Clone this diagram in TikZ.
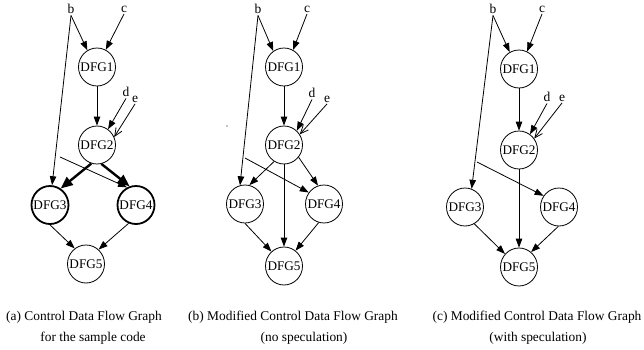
\documentclass[tikz,border=0pt]{standalone}
\usepackage{fontspec}
\setmainfont{Liberation Serif}
\usetikzlibrary{arrows.meta,shapes.geometric}

\tikzset{
  blk/.style={draw, ellipse, minimum width=37pt, minimum height=38pt,
    inner xsep=-6pt, inner ysep=0pt,
    line width=0.8pt, font=\fontsize{13.2}{15}\selectfont},
  heavyblk/.style={blk, line width=1.8pt},
  lbl/.style={inner sep=1.5pt, font=\fontsize{13.5}{15}\selectfont},
  captext/.style={inner sep=0pt, font=\fontsize{13.4}{15}\selectfont},
  flow/.style={line width=0.8pt, -{Triangle[length=9pt,width=6.5pt]}},
  heavyflow/.style={line width=2.4pt, -{Triangle[length=12pt,width=10pt]}},
  openflow/.style={line width=0.8pt, -{Straight Barb[length=8pt,width=7pt]}},
}

\begin{document}
\begin{tikzpicture}[x=1pt,y=-1pt]
\useasboundingbox (0,0) rectangle (644,350);

% ---------------- (a) original graph ----------------
\node[lbl] (a-b) at (71,9) {b};
\node[lbl] (a-c) at (124,9) {c};
\node[lbl] (a-d) at (126,92) {d};
\node[lbl] (a-e) at (135,99) {e};
\node[blk] (a-1) at (97,67) {DFG1};
\node[blk] (a-2) at (97,145) {DFG2};
\node[heavyblk] (a-3) at (50,205) {DFG3};
\node[heavyblk] (a-4) at (136,205) {DFG4};
\node[blk] (a-5) at (86,264) {DFG5};
\coordinate (a-x) at (60,157);

\draw[flow] (a-b.south) -- (a-1.120);
\draw[flow] (a-c.south) -- (a-1.63);
\draw[flow] (a-b.south) -- (a-3.84);
\draw[flow] (a-1.south) -- (a-2.north);
\draw[flow] (a-d.south) -- (a-2.55);
\draw[openflow] (a-e.south) -- (a-2.25);
\draw[flow] (a-x) -- (a-4.117);
\draw[heavyflow] (a-2.253) -- (a-3.57);
\draw[heavyflow] (a-2.283) -- (a-4.109);
\draw[flow] (a-3.south) -- (a-5.126);
\draw[flow] (a-4.248) -- (a-5.49);

\node[captext] (a-t1) at (84,317) {(a) Control Data Flow Graph};
\node[captext] (a-t2) at (93,338) {for the sample code};

% ---------------- (b) no speculation ----------------
\node[lbl] (b-b) at (258,9) {b};
\node[lbl] (b-c) at (307,9) {c};
\node[lbl] (b-d) at (312,93) {d};
\node[lbl] (b-e) at (327,99) {e};
\node[blk] (b-1) at (284,67) {DFG1};
\node[blk] (b-2) at (284,145) {DFG2};
\node[blk] (b-3) at (245,204) {DFG3};
\node[blk] (b-4) at (324,204) {DFG4};
\node[blk] (b-5) at (284,266) {DFG5};
\coordinate (b-x) at (245,158);
\fill (227,126) circle (0.6);

\draw[flow] (b-b.south) -- (b-1.124);
\draw[flow] (b-c.south) -- (b-1.62);
\draw[flow] (b-b.south) -- (b-3.105);
\draw[flow] (b-1.south) -- (b-2.north);
\draw[flow] (b-d.south) -- (b-2.48);
\draw[openflow] (b-e.south) -- (b-2.34);
\draw[flow] (b-2.239) -- (b-3.77);
\draw[flow] (b-2.320) -- (b-4.108);
\draw[flow] (b-x) -- (b-4.143);
\draw[flow] (b-2.south) -- (b-5.north);
\draw[flow] (b-3.south) -- (b-5.131);
\draw[flow] (b-4.254) -- (b-5.53);

\node[captext] (b-t1) at (293,317) {(b) Modified Control Data Flow Graph};
\node[captext] (b-t2) at (304,338) {(no speculation)};

% ---------------- (c) with speculation ----------------
\node[lbl] (c-b) at (493,9) {b};
\node[lbl] (c-c) at (542,9) {c};
\node[lbl] (c-d) at (547,97) {d};
\node[lbl] (c-e) at (562,98) {e};
\node[blk] (c-1) at (519,69) {DFG1};
\node[blk] (c-2) at (519,150) {DFG2};
\node[blk] (c-3) at (465,207) {DFG3};
\node[blk] (c-4) at (559,207) {DFG4};
\node[blk] (c-5) at (519,267) {DFG5};
\coordinate (c-x) at (477,162);

\draw[flow] (c-b.south) -- (c-1.119);
\draw[flow] (c-c.south) -- (c-1.65);
\draw[flow] (c-b.south) -- (c-3.70);
\draw[flow] (c-1.south) -- (c-2.north);
\draw[flow] (c-d.south) -- (c-2.55);
\draw[openflow] (c-e.south) -- (c-2.37);
\draw[flow] (c-x) -- (c-4.144);
\draw[flow] (c-2.south) -- (c-5.north);
\draw[flow] (c-3.299) -- (c-5.137);
\draw[flow] (c-4.268) -- (c-5.51);

\node[captext] (c-t1) at (537,317) {(c) Modified Control Data Flow Graph};
\node[captext] (c-t2) at (538,338) {(with speculation)};
\end{tikzpicture}
\end{document}
